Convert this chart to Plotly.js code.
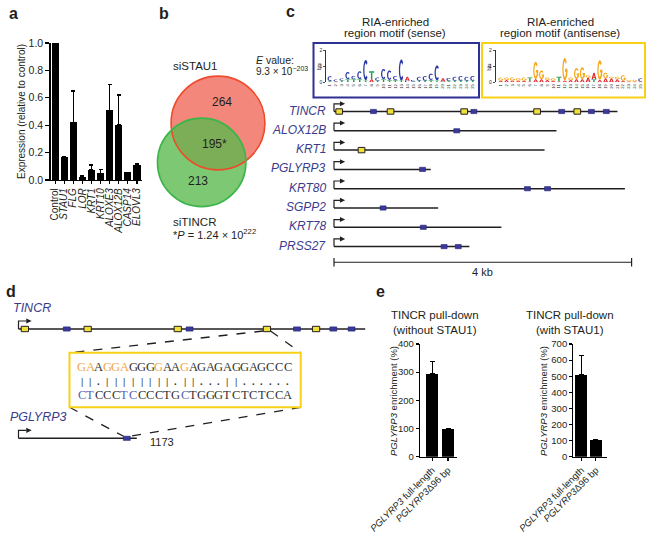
<!DOCTYPE html>
<html><head><meta charset="utf-8">
<script src="https://cdn.plot.ly/plotly-3.0.1.min.js"></script>
<style>html,body{margin:0;padding:0;background:#fff}#chart{width:651px;height:535px}</style>
</head><body><div id="chart"></div><script>
// ---------- DATA ----------
// Panel a
const aCategories=['Control','STAU1','FLG','LOR','KRT1','KRT10','ALOXE3','ALOX12B','CASP14','ELOVL3'];
const aValues=[1.0,0.165,0.42,0.025,0.075,0.05,0.51,0.405,0.055,0.11];
const aErrors=[0,0.008,0.23,0.006,0.035,0.025,0.19,0.215,0,0.008];
const aTicks=[0,0.2,0.4,0.6,0.8,1.0];
// Panel b
const vennSets=['siSTAU1','siTINCR'];
const vennOnly=[264,213];
const vennShared=195;
// Panel c genes
const genes=['TINCR','ALOX12B','KRT1','PGLYRP3','KRT80','SGPP2','KRT78','PRSS27'];
const geneLengthKb=[3.81,2.99,2.83,1.30,3.91,1.40,2.25,1.82];
const senseSitesKb=[[0.53,1.88,3.06,3.46,3.66],[1.65],[],[1.19],[2.60,2.87],[0.66],[1.20],[1.48,1.67]];
const antisenseSitesKb=[[0.07,0.76,1.75,2.73,3.27],[],[0.37],[],[],[],[],[]];
const scaleBarKb=4;
// Panel c motifs (bits), bottom letter and top letter per position 1..25
const motifPositions=[1,2,3,4,5,6,7,8,9,10,11,12,13,14,15,16,17,18,19,20,21,22,23,24,25];
const senseLowL=['T','A','T','T','T','T','T','A','T','T','T','T','T','C','T','T','T','T','T','T','T','T','T','T','T'];
const senseLowH=[0.08,0.05,0.12,0.2,0.2,0.2,0.12,0.2,0.1,0.2,0.15,0.15,0.1,0.1,0.05,0.1,0.1,0.15,0.12,0.05,0.08,0.1,0.1,0.1,0.1];
const senseTopL=['C','C','C','C','C','C','C','T','C','C','C','C','C','A','C','C','C','C','C','A','C','C','C','C','C'];
const senseTopH=[0.3,0.12,0.12,0.45,0.2,0.5,1.3,0.5,0.2,0.65,0.6,0.25,1.35,0.25,0.1,0.25,0.3,0.4,0.95,0.2,0.2,0.25,0.3,0.25,0.3];
const antiLowL=['A','A','A','A','A','A','A','A','A','A','A','A','A','A','A','A','T','A','A','A','A','A','A','A','A'];
const antiLowH=[0.1,0.15,0.1,0.1,0.1,0.05,0.2,0.2,0.15,0.1,0.05,0.1,0.15,0.2,0.2,0.3,0.2,0.15,0.25,0.25,0.2,0.1,0.05,0.05,0.05];
const antiTopL=['G','G','G','G','G','T','G','G','G','G','T','G','G','G','G','G','A','G','G','G','G','G','G','G','C'];
const antiTopH=[0.2,0.15,0.2,0.15,0.2,0.25,1.1,0.55,0.15,0.15,0.3,1.45,0.15,0.7,0.75,0.15,0.4,1.25,0.35,0.1,0.15,0.35,0.1,0.1,0.2];
const motifBitTicks=[0,1,2];
// Panel d
const dSiteTincrKb=2.73;
const dSitePglyrp3Kb=1.19;
const dSiteLabel='1173';
const seqTop='GAAGGAGGGGAAGAGAGAGGAGCCC';
const seqMid='||.||||||||.||...||......';
const seqBot='CTCCCTCCCCTGCTGGGTCTCTCCA';
const seqTopHighlight=[1,2,4,5,6,10,13];
const seqBotHighlight=[1,2,6,7,13];
// Panel e
const eLabels=['<i>PGLYRP3</i> full-length','<i>PGLYRP3</i>Δ96 bp'];
const eWithoutValues=[295,100];
const eWithoutErr=[44,0];
const eWithValues=[510,103];
const eWithErr=[120,0];
const eWithoutTicks=[0,100,200,300,400];
const eWithTicks=[0,100,200,300,400,500,600,700];

// ---------- HELPERS ----------
const W=651,H=535;
const px=x=>x/W, py=y=>1-y/H;
const TXT='#231f20', FONT='Liberation Sans, Arial, Helvetica, sans-serif';
const GENE_COLOR='#3b3b8c';
const shapes=[], annotations=[];
function ann(o,size,extra){
  annotations.push(Object.assign({showarrow:false,xref:'paper',yref:'paper',xanchor:'center',yanchor:'middle',
    font:Object.assign({size:size||11,color:TXT,family:FONT},extra||{})},o));
}
const f=v=>v.toFixed(4);
function ellPts(cx,cy,rx,ry,a0,a1,n){
  const out=[];for(let i=0;i<=n;i++){const t=(a0+(a1-a0)*i/n)*Math.PI/180;out.push([cx+rx*Math.cos(t),cy+ry*Math.sin(t)]);}return out;
}
function poly(pts){return 'M'+pts.map(p=>f(p[0])+','+f(p[1])).join('L')+'Z';}
const letterCol={A:'#e3262b',C:'#2c3ba6',G:'#f6a71c',T:'#1b9c4b'};
function glyph(L,p,y0,h,xr,yr){
  if(h<=0)return;
  const hw=0.42,yc=y0+h/2,c=letterCol[L];
  const add=path=>shapes.push({type:'path',xref:xr,yref:yr,path,fillcolor:c,line:{width:0}});
  if(L==='C'){
    add(poly(ellPts(p,yc,hw,h/2,45,315,16).concat(ellPts(p,yc,hw*0.5,h/2*0.68,315,45,16))));
  }else if(L==='G'){
    add(poly(ellPts(p,yc,hw,h/2,40,355,16).concat(ellPts(p,yc,hw*0.5,h/2*0.68,355,40,16))));
    add(poly([[p+0.04,yc-0.12*h],[p+hw,yc-0.12*h],[p+hw,yc+0.02*h],[p+0.04,yc+0.02*h]]));
    add(poly([[p+hw-0.2,yc-0.32*h],[p+hw,yc-0.32*h],[p+hw,yc],[p+hw-0.2,yc]]));
  }else if(L==='T'){
    add(poly([[p-hw,y0+0.8*h],[p+hw,y0+0.8*h],[p+hw,y0+h],[p-hw,y0+h]]));
    add(poly([[p-0.12,y0],[p+0.12,y0],[p+0.12,y0+0.81*h],[p-0.12,y0+0.81*h]]));
  }else if(L==='A'){
    add(poly([[p-hw,y0],[p-0.1,y0+h],[p+0.1,y0+h],[p+hw,y0],[p+0.2,y0],[p,y0+0.68*h],[p-0.2,y0]]));
    add(poly([[p-0.26,y0+0.22*h],[p+0.26,y0+0.22*h],[p+0.26,y0+0.36*h],[p-0.26,y0+0.36*h]]));
  }
}
function drawLogo(lowL,lowH,topL,topH,xr,yr){
  motifPositions.forEach((p,i)=>{glyph(lowL[i],p,0,lowH[i],xr,yr);glyph(topL[i],p,lowH[i],topH[i],xr,yr);});
}
function promoter(xr,yr,x0,y0,up,right,hl,hh){
  shapes.push({type:'path',xref:xr,yref:yr,path:`M${f(x0)},${f(y0)}L${f(x0)},${f(y0-up)}L${f(x0+right)},${f(y0-up)}`,line:{color:TXT,width:1.2},fillcolor:'rgba(0,0,0,0)'});
  shapes.push({type:'path',xref:xr,yref:yr,path:poly([[x0+right,y0-up-hh],[x0+right+hl,y0-up],[x0+right,y0-up+hh]]),fillcolor:TXT,line:{width:0}});
}
function site(xr,yr,x,y,dx,dy,yellow){
  shapes.push({type:'rect',xref:xr,yref:yr,x0:x-dx,x1:x+dx,y0:y-dy,y1:y+dy,
    fillcolor:yellow?'#f2e03a':'#3a3a9e',line:{color:yellow?'#231f20':'#23236b',width:yellow?1:0.6}});
}

// ---------- PANEL LETTERS ----------
ann({x:px(13),y:py(14),text:'<b>a</b>'},16);
ann({x:px(164),y:py(14),text:'<b>b</b>'},16);
ann({x:px(290),y:py(11),text:'<b>c</b>'},16);
ann({x:px(11),y:py(291),text:'<b>d</b>'},16);
ann({x:px(380),y:py(291),text:'<b>e</b>'},16);

// ---------- PANEL a ----------
const traces=[];
traces.push({type:'bar',x:aCategories,y:aValues,xaxis:'x',yaxis:'y',width:0.78,marker:{color:'#000'},
  error_y:{type:'data',symmetric:false,array:aErrors,arrayminus:aErrors.map(()=>0),color:'#000',thickness:1.2,width:2},hoverinfo:'skip'});
ann({x:px(21),y:py(112),text:'Expression (relative to control)',textangle:-90},10);

// ---------- PANEL b ----------
const vennK=2.19;
const rS=vennK*Math.sqrt(vennOnly[0]+vennShared), rT=vennK*Math.sqrt(vennOnly[1]+vennShared);
const cS=[218,123], cT=[201.7,162.4];
function circ(c,r,fill,line){
  shapes.push({type:'circle',xref:'paper',yref:'paper',x0:px(c[0]-r),x1:px(c[0]+r),y0:py(c[1]+r),y1:py(c[1]-r),fillcolor:fill,line:line});
}
circ(cS,rS,'#f4877b',{width:0});
circ(cT,rT,'rgba(88,184,76,0.78)',{width:0});
circ(cS,rS,'rgba(0,0,0,0)',{color:'#ee4b2b',width:1.6});
circ(cT,rT,'rgba(0,0,0,0)',{color:'#3db54a',width:1.6});
ann({x:px(171),y:py(66),text:vennSets[0],xanchor:'left'},11.5);
ann({x:px(222),y:py(102),text:String(vennOnly[0])},12);
ann({x:px(215),y:py(144),text:vennShared+'*'},12);
ann({x:px(198),y:py(181),text:String(vennOnly[1])},12);
ann({x:px(171),y:py(222),text:vennSets[1],xanchor:'left'},11.5);
ann({x:px(171),y:py(234),text:'*<i>P</i> = 1.24 × 10<sup>222</sup>',xanchor:'left'},11);

// ---------- PANEL c ----------
ann({x:px(395),y:py(22.5),text:'RIA-enriched'},11.5);
ann({x:px(395),y:py(33.5),text:'region motif (sense)'},11.5);
ann({x:px(560),y:py(22.5),text:'RIA-enriched'},11.5);
ann({x:px(560),y:py(33.5),text:'region motif (antisense)'},11.5);
ann({x:px(254),y:py(60),text:'<i>E</i> value:',xanchor:'left'},10.5);
ann({x:px(254),y:py(71),text:'9.3 × 10<sup>−203</sup>',xanchor:'left'},10);
shapes.push({type:'rect',xref:'paper',yref:'paper',x0:px(313.5),x1:px(479),y0:py(97.5),y1:py(43),line:{color:'#2e3192',width:2},fillcolor:'rgba(0,0,0,0)'});
shapes.push({type:'rect',xref:'paper',yref:'paper',x0:px(482),x1:px(645),y0:py(97.5),y1:py(43),line:{color:'#f7d117',width:2},fillcolor:'rgba(0,0,0,0)'});
drawLogo(senseLowL,senseLowH,senseTopL,senseTopH,'x4','y4');
drawLogo(antiLowL,antiLowH,antiTopL,antiTopH,'x5','y5');
ann({x:px(319),y:py(66),text:'bits',textangle:-90},4.5);
ann({x:px(488.5),y:py(66),text:'bits',textangle:-90},4.5);

// gene rows (x3: kb, y3: row index)
const cX0=334, cKb=74.4, cY0=111.5, cRow=19.3;
genes.forEach((g,i)=>{
  shapes.push({type:'line',xref:'x3',yref:'y3',x0:0,x1:geneLengthKb[i],y0:i,y1:i,line:{color:TXT,width:1.5}});
  promoter('x3','y3',0,i,0.4,0.08,0.07,0.13);
  senseSitesKb[i].forEach(s=>site('x3','y3',s,i,0.04,0.11,false));
  antisenseSitesKb[i].forEach(s=>site('x3','y3',s,i,0.045,0.14,true));
  annotations.push({xref:'x3',yref:'y3',x:-0.08,y:i-0.05,xanchor:'right',yanchor:'middle',showarrow:false,text:'<i>'+g+'</i>',font:{size:12,color:GENE_COLOR,family:FONT}});
});
const sbRow=7.81;
shapes.push({type:'line',xref:'x3',yref:'y3',x0:0,x1:scaleBarKb,y0:sbRow,y1:sbRow,line:{color:TXT,width:1.2}});
[0,scaleBarKb].forEach(x=>shapes.push({type:'line',xref:'x3',yref:'y3',x0:x,x1:x,y0:sbRow-0.22,y1:sbRow+0.22,line:{color:TXT,width:1.2}}));
annotations.push({xref:'x3',yref:'y3',x:scaleBarKb/2,y:8.33,xanchor:'center',yanchor:'middle',showarrow:false,text:scaleBarKb+' kb',font:{size:11,color:TXT,family:FONT}});

// ---------- PANEL d ----------
const dX0=18.5, dKb=91;
const toKb=p=>(p-dX0)/dKb;
const dTincrY=329, dPgY=438.3;
const tIdx=genes.indexOf('TINCR'), pIdx=genes.indexOf('PGLYRP3');
ann({x:px(11),y:py(308),text:'<i>TINCR</i>',xanchor:'left'},12.5,{color:GENE_COLOR});
ann({x:px(8),y:py(417),text:'<i>PGLYRP3</i>',xanchor:'left'},12.5,{color:GENE_COLOR});
// dashed connectors
const boxL=69.5, boxR=300.7, boxT=352.7, boxB=407.3;
const dash={color:TXT,width:1.3,dash:'dash'};
shapes.push({type:'line',xref:'x6',yref:'y6',x0:dSiteTincrKb-0.04,y0:dTincrY+2,x1:toKb(boxL),y1:boxT,line:dash});
shapes.push({type:'line',xref:'x6',yref:'y6',x0:dSiteTincrKb+0.04,y0:dTincrY+2,x1:toKb(boxR),y1:boxT,line:dash});
shapes.push({type:'line',xref:'x6',yref:'y6',x0:toKb(boxL),y0:boxB,x1:dSitePglyrp3Kb-0.035,y1:dPgY-2,line:dash});
shapes.push({type:'line',xref:'x6',yref:'y6',x0:toKb(boxR),y0:boxB,x1:dSitePglyrp3Kb+0.035,y1:dPgY-2,line:dash});
shapes.push({type:'rect',xref:'x6',yref:'y6',x0:toKb(boxL),x1:toKb(boxR),y0:boxT,y1:boxB,line:{color:'#f7d117',width:2},fillcolor:'#fff'});
// TINCR line
shapes.push({type:'line',xref:'x6',yref:'y6',x0:0,x1:geneLengthKb[tIdx],y0:dTincrY,y1:dTincrY,line:{color:TXT,width:1.5}});
promoter('x6','y6',0,dTincrY,8,0.085,0.06,2.6);
senseSitesKb[tIdx].forEach(s=>site('x6','y6',s,dTincrY,0.038,2.1,false));
antisenseSitesKb[tIdx].forEach(s=>site('x6','y6',s,dTincrY,0.04,2.7,true));
// PGLYRP3 line
shapes.push({type:'line',xref:'x6',yref:'y6',x0:0,x1:geneLengthKb[pIdx],y0:dPgY,y1:dPgY,line:{color:TXT,width:1.5}});
promoter('x6','y6',0,dPgY,8,0.085,0.06,2.6);
site('x6','y6',dSitePglyrp3Kb,dPgY,0.038,2.1,false);
annotations.push({xref:'x6',yref:'y6',x:dSitePglyrp3Kb+0.23,y:dPgY+3.5,xanchor:'left',yanchor:'middle',showarrow:false,text:dSiteLabel,font:{size:11,color:TXT,family:FONT}});
// alignment text, one character per cell
const SERIF='Liberation Serif, Times New Roman, serif';
const seqX0=77.3, seqPitch=8.58;
function seqRow(s,hl,col,y,size,bold){
  s.split('').forEach((c,i)=>ann({x:px(seqX0+(i+0.5)*seqPitch),y:py(y),text:bold?'<b>'+c+'</b>':c},size,{family:SERIF,color:hl.includes(i+1)?col:'#333'}));
}
seqRow(seqTop,seqTopHighlight,'#f0a545',367.3,12.5,false);
seqRow(seqMid,[],'#555',381.3,10.5,true);
seqRow(seqBot,seqBotHighlight,'#5560b8',395,12.5,false);

// ---------- PANEL e ----------
ann({x:px(435),y:py(315),text:'TINCR pull-down'},11.5);
ann({x:px(435),y:py(330),text:'(without STAU1)'},11.5);
ann({x:px(570),y:py(315),text:'TINCR pull-down'},11.5);
ann({x:px(570),y:py(330),text:'(with STAU1)'},11.5);
ann({x:px(393),y:py(401),text:'<i>PGLYRP3</i> enrichment (%)',textangle:-90},9.5);
ann({x:px(543),y:py(401),text:'<i>PGLYRP3</i> enrichment (%)',textangle:-90},9.5);
traces.push({type:'bar',x:[0,1],y:eWithoutValues,xaxis:'x7',yaxis:'y7',width:0.76,marker:{color:'#000'},
  error_y:{type:'data',symmetric:false,array:eWithoutErr,arrayminus:[0,0],color:'#000',thickness:1.3,width:2.5},hoverinfo:'skip'});
traces.push({type:'bar',x:[0,1],y:eWithValues,xaxis:'x8',yaxis:'y8',width:0.82,marker:{color:'#000'},
  error_y:{type:'data',symmetric:false,array:eWithErr,arrayminus:[0,0],color:'#000',thickness:1.3,width:2.5},hoverinfo:'skip'});

// overlay axis placeholders
['3','4','5','6'].forEach(n=>traces.push({type:'scatter',x:[],y:[],xaxis:'x'+n,yaxis:'y'+n,hoverinfo:'skip'}));

const baseAx={showgrid:false,zeroline:false,fixedrange:true,tickfont:{size:10.5,color:TXT,family:FONT}};
const lineAx=Object.assign({},baseAx,{showline:true,linecolor:'#000',linewidth:1.2,ticks:'outside',tickcolor:'#000',tickwidth:1.1});
const hidden={visible:false,showgrid:false,zeroline:false,fixedrange:true};
const logoX=(dom,rng,anchor)=>Object.assign({},baseAx,{domain:dom,range:rng,anchor,tickmode:'array',tickvals:motifPositions,ticktext:motifPositions.map(String),tickangle:-90,tickfont:{size:4.2,color:TXT,family:FONT},ticks:'',showline:false});
const logoY=(anchor)=>Object.assign({},baseAx,{domain:[py(82.3),py(82.3-2.05*15.8)],range:[0,2.05],anchor,tickmode:'array',tickvals:motifBitTicks,tickfont:{size:5,color:TXT,family:FONT},showline:true,linecolor:'#000',linewidth:0.8,ticks:'outside',ticklen:2,tickcolor:'#000',tickwidth:0.7});
const eTickFont={size:9.5,color:TXT,family:FONT};

const layout={
  width:W,height:H,margin:{l:0,r:0,t:0,b:0,pad:0},paper_bgcolor:'#fff',plot_bgcolor:'rgba(0,0,0,0)',
  showlegend:false,font:{family:FONT,color:TXT},bargap:0,
  xaxis:Object.assign({},lineAx,{domain:[px(50.5),px(141.5)],range:[-0.5,9.5],anchor:'y',type:'category',
    tickmode:'array',tickvals:aCategories,ticktext:aCategories.map(c=>c==='Control'?c:'<i>'+c+'</i>'),tickangle:-90,ticklen:3,tickfont:{size:10,color:TXT,family:FONT}}),
  yaxis:Object.assign({},lineAx,{domain:[py(180),py(43)],range:[0,1],anchor:'x',tickmode:'array',tickvals:aTicks,tickformat:'.1f',ticklen:4}),
  xaxis3:Object.assign({},hidden,{domain:[0,1],range:[-cX0/cKb,(W-cX0)/cKb],anchor:'y3'}),
  yaxis3:Object.assign({},hidden,{domain:[0,1],range:[(H-cY0)/cRow,-cY0/cRow],anchor:'x3'}),
  xaxis4:logoX([px(326),px(475.7)],[0.327,25.5],'y4'),
  yaxis4:logoY('x4'),
  xaxis5:logoX([px(495.5),px(643.5)],[0.108,25.5],'y5'),
  yaxis5:logoY('x5'),
  xaxis6:Object.assign({},hidden,{domain:[0,1],range:[-dX0/dKb,(W-dX0)/dKb],anchor:'y6'}),
  yaxis6:Object.assign({},hidden,{domain:[0,1],range:[H,0],anchor:'x6'}),
  xaxis7:Object.assign({},lineAx,{domain:[px(420),px(456.7)],range:[-0.77,1.55],anchor:'y7',tickmode:'array',tickvals:[0,1],ticktext:eLabels,tickangle:-45,ticklen:3,tickfont:eTickFont}),
  yaxis7:Object.assign({},lineAx,{domain:[py(456.7),py(344)],range:[0,400],anchor:'x7',tickmode:'array',tickvals:eWithoutTicks,ticklen:3,tickfont:eTickFont}),
  xaxis8:Object.assign({},lineAx,{domain:[px(573.3),px(606.7)],range:[-0.55,1.75],anchor:'y8',tickmode:'array',tickvals:[0,1],ticktext:eLabels,tickangle:-45,ticklen:3,tickfont:eTickFont}),
  yaxis8:Object.assign({},lineAx,{domain:[py(456.7),py(344)],range:[0,700],anchor:'x8',tickmode:'array',tickvals:eWithTicks,ticklen:3,tickfont:eTickFont}),
  shapes,annotations
};
Plotly.newPlot('chart',traces,layout,{staticPlot:true,displayModeBar:false});
</script></body></html>
